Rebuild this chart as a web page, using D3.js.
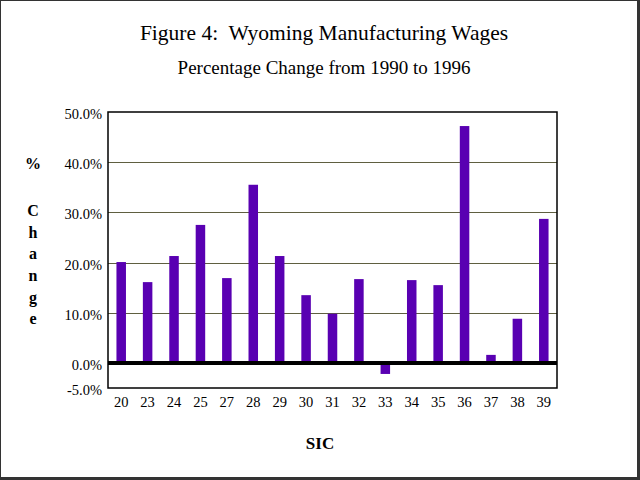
<!DOCTYPE html>
<html><head><meta charset="utf-8">
<script src="https://cdn.jsdelivr.net/npm/d3@7"></script>
<style>
html,body{margin:0;padding:0;background:#fff;}
svg{display:block;}
text{font-family:"Liberation Serif","Times New Roman",serif;fill:#000;white-space:pre;}
</style></head>
<body>
<svg id="chart" width="640" height="480"></svg>
<script>
const categories = ["20","23","24","25","27","28","29","30","31","32","33","34","35","36","37","38","39"];
const values = [20.1,16.1,21.3,27.5,16.9,35.5,21.3,13.5,9.8,16.7,-2.2,16.5,15.5,47.2,1.6,8.8,28.7];
const yTicks = [-5,0,10,20,30,40,50];
const yTickLabels = ["-5.0%","0.0%","10.0%","20.0%","30.0%","40.0%","50.0%"];
const title = "Figure 4:  Wyoming Manufacturing Wages";
const subtitle = "Percentage Change from 1990 to 1996";
const yLabelChars = ["%","C","h","a","n","g","e"];
const xLabel = "SIC";

const svg = d3.select("#chart");
const W = 640, H = 480;
const m = {left:108, right:557, top:112, bottom:388};

// outer frame
svg.append("rect").attr("x",0.5).attr("y",0.5).attr("width",W-1.5).attr("height",H-1.5)
  .attr("fill","#fff").attr("stroke","#333").attr("stroke-width",1);
svg.append("line").attr("x1",638.5).attr("x2",638.5).attr("y1",0).attr("y2",480).attr("stroke","#333").attr("stroke-width",3);
svg.append("line").attr("x1",0).attr("x2",640).attr("y1",478.5).attr("y2",478.5).attr("stroke","#333").attr("stroke-width",3);

const x = d3.scaleBand().domain(categories).range([m.left,m.right]).paddingInner(0.64).paddingOuter(0.32);
const y = d3.scaleLinear().domain([-5,50]).range([m.bottom,m.top]);

// gridlines
svg.append("g").selectAll("line").data(yTicks.filter(d=>d>0 && d<50)).join("line")
  .attr("x1",m.left).attr("x2",m.right).attr("y1",d=>Math.round(y(d))+0.5).attr("y2",d=>Math.round(y(d))+0.5)
  .attr("stroke","#5f5f40").attr("stroke-width",1);

// bars
svg.append("g").selectAll("rect").data(values).join("rect")
  .attr("x",(d,i)=>x(categories[i]))
  .attr("width",x.bandwidth())
  .attr("y",d=>y(Math.max(0,d)))
  .attr("height",d=>Math.abs(y(d)-y(0)))
  .attr("fill","#5900b2");

// plot border
svg.append("rect").attr("x",m.left).attr("y",m.top).attr("width",m.right-m.left).attr("height",m.bottom-m.top)
  .attr("fill","none").attr("stroke","#000").attr("stroke-width",1.5);

// zero line
svg.append("line").attr("x1",m.left).attr("x2",m.right).attr("y1",y(0)).attr("y2",y(0))
  .attr("stroke","#000").attr("stroke-width",4);

// y axis labels
const yAxis = d3.axisLeft(y).tickValues(yTicks).tickSize(0).tickPadding(6)
  .tickFormat((d,i)=>yTickLabels[i]);
const gy = svg.append("g").attr("transform",`translate(${m.left},0)`).call(yAxis);
gy.select(".domain").remove();
gy.selectAll("text").attr("font-size",14.5).attr("font-family","Liberation Serif").attr("dy","0.45em");

// x axis labels
const xAxis = d3.axisBottom(x).tickSize(0).tickPadding(9);
const gx = svg.append("g").attr("transform",`translate(0,${m.bottom})`).call(xAxis);
gx.select(".domain").remove();
gx.selectAll("text").attr("font-size",14.5).attr("font-family","Liberation Serif");

// titles
svg.append("text").attr("x",324).attr("y",40).attr("text-anchor","middle").attr("font-size",21.5).text(title);
svg.append("text").attr("x",324).attr("y",74).attr("text-anchor","middle").attr("font-size",19).text(subtitle);

// y label stacked
const ylY = [163,210,232,253,275,297,318];
svg.append("g").selectAll("text").data(yLabelChars).join("text")
  .attr("x",33).attr("y",(d,i)=>ylY[i]).attr("dy","0.35em").attr("text-anchor","middle")
  .attr("font-size",16).attr("font-weight","bold").text(d=>d);

// x label
svg.append("text").attr("x",320).attr("y",443).attr("dy","0.35em").attr("text-anchor","middle")
  .attr("font-size",17).attr("font-weight","bold").text(xLabel);
</script>
</body></html>
